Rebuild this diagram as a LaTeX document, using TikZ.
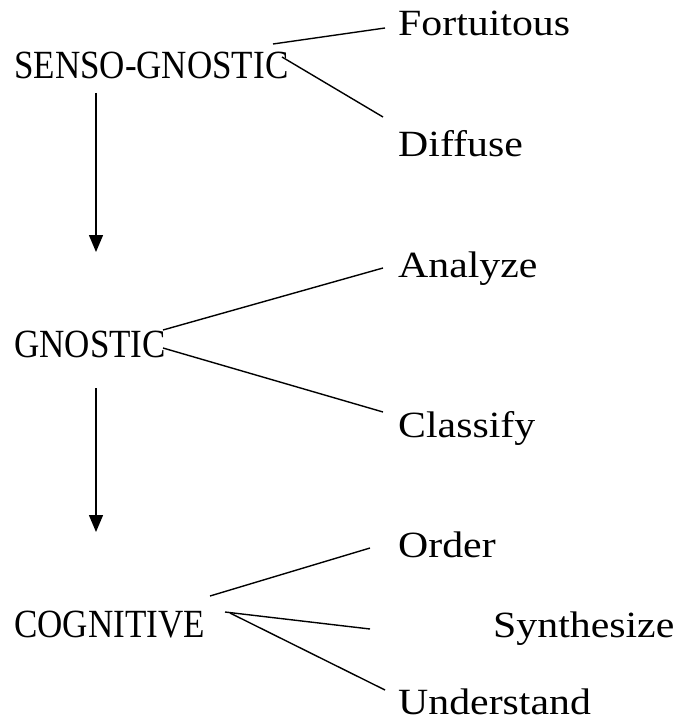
\documentclass[tikz,border=0pt]{standalone}
\usepackage{fontspec}
\setmainfont{Liberation Serif}
\newfontfamily\stagefont[FakeStretch=0.875]{Liberation Serif}
\newfontfamily\leaffont[FakeStretch=1.13]{Liberation Serif}
\usetikzlibrary{arrows.meta}
\begin{document}
\begin{tikzpicture}[x=1pt,y=-1pt,
  stage/.style={anchor=base west,inner sep=0pt,font=\stagefont\fontsize{40}{44}\selectfont},
  leaf/.style={anchor=base west,inner sep=0pt,font=\leaffont\fontsize{37}{41}\selectfont},
  branch/.style={line width=1.4pt},
  flow/.style={line width=1.4pt,-{Triangle[length=17pt,width=14pt]}}]
\useasboundingbox (0,0) rectangle (683,719);
% stages
\node[stage] (sg) at (14,78.5) {SENSO-GNOSTIC};
\node[stage] (gn) at (14,357) {GNOSTIC};
\node[stage] (cg) at (14,637) {COGNITIVE};
% leaves
\node[leaf] (fo) at (398,36) {Fortuitous};
\node[leaf] (di) at (398,157) {Diffuse};
\node[leaf] (an) at (398,277) {Analyze};
\node[leaf] (cl) at (398,437) {Classify};
\node[leaf] (or) at (398,557) {Order};
\node[leaf] (sy) at (493,637) {Synthesize};
\node[leaf] (un) at (398,714) {Understand};
% connector end points
\coordinate (sgA) at (273,44);
\coordinate (sgB) at (282,57);
\coordinate (foE) at (385,28);
\coordinate (diE) at (383,117);
\coordinate (gnA) at (163,330);
\coordinate (gnB) at (163,348);
\coordinate (anE) at (383,268);
\coordinate (clE) at (383,412);
\coordinate (cgA) at (210,596);
\coordinate (cgB) at (225,612);
\coordinate (cgC) at (230,613);
\coordinate (orE) at (370,548);
\coordinate (syE) at (370,629);
\coordinate (unE) at (385,690);
\coordinate (a1s) at (96,93);
\coordinate (a1e) at (96,252);
\coordinate (a2s) at (96,388);
\coordinate (a2e) at (96,532);
% branches
\draw[branch] (sgA) -- (foE);
\draw[branch] (sgB) -- (diE);
\draw[branch] (gnA) -- (anE);
\draw[branch] (gnB) -- (clE);
\draw[branch] (cgA) -- (orE);
\draw[branch] (cgB) -- (syE);
\draw[branch] (cgC) -- (unE);
% flow arrows
\draw[flow] (a1s) -- (a1e);
\draw[flow] (a2s) -- (a2e);
\end{tikzpicture}
\end{document}
